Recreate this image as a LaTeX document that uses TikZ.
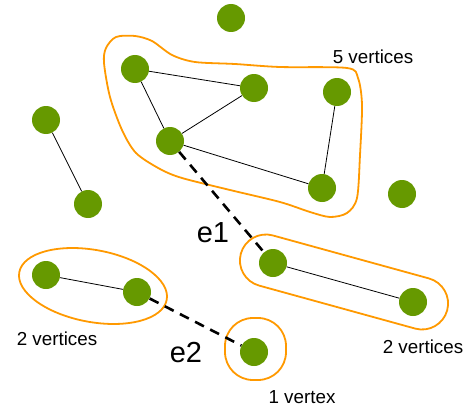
\documentclass[tikz,border=0pt]{standalone}
\usepackage{fontspec}
\setmainfont{Liberation Sans}
\begin{document}
\begin{tikzpicture}[x=1pt,y=-1pt,
  vtx/.style={circle,fill=vgreen,minimum size=28pt,inner sep=0pt},
  link/.style={black,line width=0.8pt},
  cut/.style={black,line width=2.6pt,dash pattern=on 10pt off 7pt},
  blob/.style={draw=borange,line width=1.8pt},
  note/.style={inner sep=0pt,font=\fontsize{18.8}{20}\selectfont},
  elabel/.style={inner sep=0pt,font=\fontsize{29}{32}\selectfont}]
\definecolor{vgreen}{RGB}{102,153,0}
\definecolor{borange}{RGB}{255,153,0}
\useasboundingbox (0,0) rectangle (471,412);

% component outlines
\draw[blob] plot[smooth cycle,tension=0.5] coordinates {
  (104,63) (106,48) (116,37) (135,36) (152,41) (172,55) (195,62)
  (235,64) (280,67) (347,68) (358,78) (362,105) (360,155) (357,198)
  (347,213) (330,217) (310,212) (280,202) (230,190) (182,178)
  (160,169) (136,153) (122,130) (110,97)};
\draw[blob,rotate around={-10.6:(93,286)}] (93,286) ellipse [x radius=75,y radius=36];
\draw[blob,rounded corners=26pt,rotate around={-15.4:(344,282)}]
  (237,256) rectangle (451,308);
\draw[blob,rounded corners=28pt] (225,318) rectangle (286,380);

% vertices
\node[vtx] (top) at (231,18) {};
\node[vtx] (a) at (135,69) {};
\node[vtx] (b) at (254,88) {};
\node[vtx] (c) at (337,92) {};
\node[vtx] (d) at (170,141) {};
\node[vtx] (e) at (322,188) {};
\node[vtx] (f) at (46,120) {};
\node[vtx] (g) at (88,204) {};
\node[vtx] (h) at (402,194) {};
\node[vtx] (i) at (46,275) {};
\node[vtx] (j) at (137,292) {};
\node[vtx] (k) at (273,263) {};
\node[vtx] (l) at (413,302) {};
\node[vtx] (m) at (254,352) {};

% edges inside components
\draw[link] (a) -- (b);
\draw[link] (a) -- (d);
\draw[link] (d) -- (b);
\draw[link] (d) -- (e);
\draw[link] (c) -- (e);
\draw[link] (f) -- (g);
\draw[link] (i) -- (j);
\draw[link] (k) -- (l);

% edges between components
\draw[cut] (d) -- (k);
\draw[cut] (j) -- (m);

% labels
\node[note] (n5) at (373,57) {5 vertices};
\node[note] (n2a) at (57,339) {2 vertices};
\node[note] (n2b) at (423,347) {2 vertices};
\node[note] (n1) at (302,397) {1 vertex};
\node[elabel] (e1) at (213,233) {e1};
\node[elabel] (e2) at (186,353) {e2};
\end{tikzpicture}
\end{document}
